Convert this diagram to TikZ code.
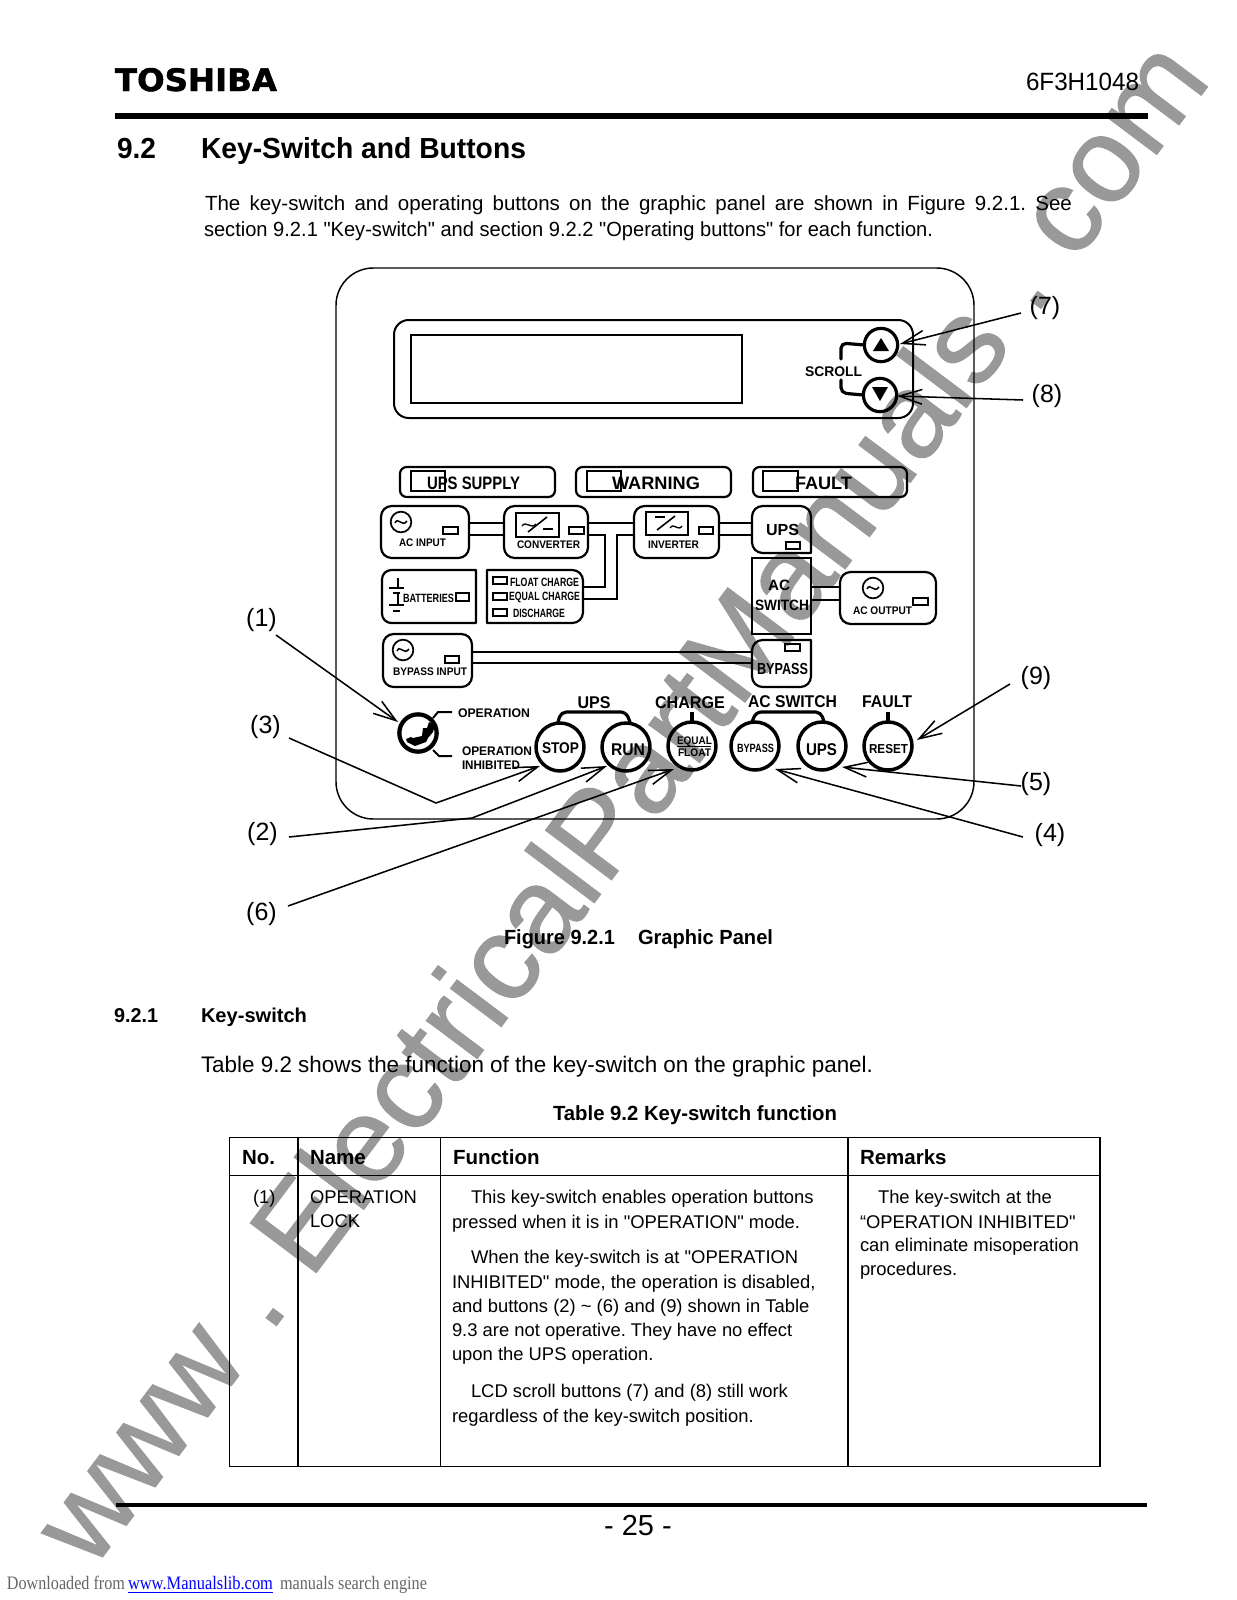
\documentclass[tikz,border=0pt]{standalone}
\usepackage{fontspec}
\usepackage{graphicx}
\usetikzlibrary{arrows.meta,calc}
\newfontfamily\mainf{Liberation Sans}
\newfontfamily\serf{Liberation Serif}
\newfontfamily\logof[BoldFeatures={FakeBold=1.5}]{DejaVu Sans}
\newfontfamily\wmf[FakeBold=0.9]{Liberation Sans}
\newlength\pxu \setlength\pxu{0.75pt}
\newcounter{tn}
\newcommand\fs[1]{\fontsize{\fpeval{#1*0.75}pt}{\fpeval{#1*0.9}pt}\selectfont\frenchspacing}
\newcommand\fw[2]{\resizebox{#1\pxu}{\height}{#2}}
\definecolor{wm}{HTML}{999999}
\definecolor{foot}{HTML}{666666}
\tikzset{
 txt/.style={inner sep=0pt,outer sep=0pt,font=\mainf},
 pline/.style={line width=1.65pt,line join=round,line cap=round},
 wire/.style={line width=1.5pt},
 pbox/.style={draw,line width=1.65pt,inner sep=0pt,outer sep=0pt},
 led/.style={draw,line width=1.2pt,inner sep=0pt,outer sep=0pt},
 btn/.style={draw,circle,line width=2.6pt,minimum size=36pt,inner sep=0pt,outer sep=0pt},
 sbtn/.style={draw,circle,line width=2.4pt,minimum size=25pt,inner sep=0pt,outer sep=0pt},
 thick1/.style={line width=2.4pt,line cap=round,line join=round,rounded corners=4pt},
 call/.style={line width=1.15pt,-{Straight Barb[length=17pt,width=11pt,line width=1.15pt]}},
 tline/.style={line width=1.1pt},
 acsym/.style={draw,circle,line width=1.3pt,minimum size=15.5pt,inner sep=0pt,outer sep=0pt},
}
\newcommand\TL[4]{\stepcounter{tn}\node[txt,anchor=base west] (t\arabic{tn}) at (#1,{#2+0.36*#3}) {\fs{#3}#4};}
\newcommand\TC[4]{\stepcounter{tn}\node[txt,anchor=base] (t\arabic{tn}) at (#1,{#2+0.36*#3}) {\fs{#3}#4};}
\newcommand\BX[7][pbox]{\node[#1,rounded corners=#7,anchor=north west,minimum width=\fpeval{(#5-#3)*0.75}pt,minimum height=\fpeval{(#6-#4)*0.75}pt] (#2) at (#3,#4) {};}
\newcommand\NB[5]{\node[inner sep=0pt,outer sep=0pt,anchor=north west,minimum width=\fpeval{(#4-#2)*0.75}pt,minimum height=\fpeval{(#5-#3)*0.75}pt] (#1) at (#2,#3) {};}
\newcommand\LED[5]{\BX[led]{#1}{#2}{#3}{#4}{#5}{0pt}}
\newcommand\WAVE[2]{\begin{scope}[shift={(#1,#2)}]\draw[line width=1.1pt] (-6,1) .. controls (-3,-6) and (1,6) .. (6,-1);\end{scope}}
\begin{document}
\begin{tikzpicture}[x=0.75pt,y=-0.75pt]
\useasboundingbox (0,0) rectangle (1237,1600);
\fill[white] (0,0) rectangle (1237,1600);
% watermark
\node[txt,font=\wmf,text=wm,rotate=53.07,anchor=base west] (wmark) at (92,1571) {\fs{120}\fw{1865}{www . ElectricalPartManuals . com}};
% header
\node[txt,anchor=north west] (logo) at (115,68) {\logof\bfseries\resizebox{162\pxu}{23\pxu}{TOSHIBA}};
\TL{1026}{81}{25}{\fw{113}{6F3H1048}}
\fill (115,113) rectangle (1148,119);
\TL{117}{148}{29}{\bfseries\fw{39}{9.2}}
\TL{201}{148}{29}{\bfseries\fw{325}{Key-Switch and Buttons}}
\TL{205}{203}{20.5}{\makebox[867\pxu][s]{The key-switch and operating buttons on the graphic panel are shown in Figure 9.2.1. See}}
\TL{204}{229}{20.5}{\fw{729}{section 9.2.1 "Key-switch" and section 9.2.2 "Operating buttons" for each function.}}
% panel
\BX[draw,line width=1.1pt,inner sep=0pt,outer sep=0pt]{panel}{336}{268}{974}{819}{28pt}
\BX[draw,line width=1.5pt,inner sep=0pt,outer sep=0pt]{lcdout}{394}{320}{913}{418}{11pt}
\BX[draw,line width=1.2pt,inner sep=0pt,outer sep=0pt]{lcd}{411}{335}{742}{403}{0pt}
% scroll
\node[sbtn] (sup) at (881,345) {};
\node[sbtn] (sdn) at (880,395) {};
\fill (873,351) -- (881,338) -- (889,351) -- cycle;
\fill (872,387) -- (888,387) -- (880,401) -- cycle;
\draw[thick1] (sup.west) -- (841,343) -- (841,359);
\draw[thick1] (841,380) -- (841,393) -- (sdn.west);
\TL{805}{371}{14}{\bfseries\fw{57}{SCROLL}}
% lamps
\BX{fsup}{400}{467}{555}{497}{5pt}
\BX{fwarn}{576}{467}{731}{497}{5pt}
\BX{ffault}{753}{467}{907}{497}{5pt}
\BX[draw,line width=1.5pt,inner sep=0pt,outer sep=0pt]{lsup}{411}{471}{445}{491}{0pt}
\BX[draw,line width=1.5pt,inner sep=0pt,outer sep=0pt]{lwarn}{587}{471}{621}{491}{0pt}
\BX[draw,line width=1.5pt,inner sep=0pt,outer sep=0pt]{lfault}{763}{471}{798}{491}{0pt}
\TL{427}{483}{18}{\bfseries\fw{93}{UPS SUPPLY}}
\TL{612}{483}{18}{\bfseries\fw{88}{WARNING}}
\TL{795}{483}{18}{\bfseries\fw{57}{FAULT}}
% mimic boxes
\BX{acin}{381}{506}{469}{558}{8pt}
\BX{conv}{504}{506}{588}{558}{8pt}
\BX{inv}{634}{506}{719}{558}{8pt}
\BX{acout}{840}{572}{936}{624}{8pt}
\BX{bypin}{383}{634}{472}{687}{8pt}
\BX{acsw}{752}{558}{811}{634}{0pt}
\NB{upsb}{752}{506}{811}{553}
\NB{bypb}{752}{640}{811}{687}
\NB{batt}{382}{570}{476}{623}
\NB{chg}{487}{570}{583}{623}
\draw[pline] (upsb.south west) -- (upsb.south east) [rounded corners=8pt] -- (upsb.north east) -- (upsb.north west) -- cycle;
\draw[pline] (bypb.north west) -- (bypb.north east) [rounded corners=8pt] -- (bypb.south east) -- (bypb.south west) -- cycle;
\draw[pline] (batt.north east) -- (batt.south east) [rounded corners=7pt] -- (batt.south west) -- (batt.north west) [sharp corners] -- cycle;
\draw[pline] (chg.north west) -- (chg.south west) [rounded corners=8pt] -- (chg.south east) -- (chg.north east) [sharp corners] -- cycle;
% wires
\foreach \yy in {523,535}{
 \draw[wire] (acin.east |- 0,\yy) -- (conv.west |- 0,\yy);
 \draw[wire] (inv.east |- 0,\yy) -- (upsb.west |- 0,\yy);
}
\draw[wire] (conv.east |- 0,523) -- (inv.west |- 0,523);
\draw[wire] (conv.east |- 0,535) -- (605,535) -- (605,587) -- (chg.east |- 0,587);
\draw[wire] (inv.west |- 0,535) -- (617,535) -- (617,599) -- (chg.east |- 0,599);
\foreach \yy in {587,600}{ \draw[wire] (acsw.east |- 0,\yy) -- (acout.west |- 0,\yy); }
\foreach \yy in {652,663}{ \draw[wire] (bypin.east |- 0,\yy) -- (bypb.west |- 0,\yy); }
% symbols
\node[acsym] (s1) at (401,522) {}; \WAVE{401}{522}
\node[acsym] (s2) at (403,650) {}; \WAVE{403}{650}
\node[acsym] (s3) at (873,588) {}; \WAVE{873}{588}
\BX[draw,line width=1.4pt,inner sep=0pt,outer sep=0pt]{cvs}{516}{513}{559}{537}{0pt}
\BX[draw,line width=1.4pt,inner sep=0pt,outer sep=0pt]{ivs}{646}{512}{688}{535}{0pt}
\draw[line width=1.2pt] (528,532) -- (547,517);
\draw[line width=1.2pt] (543,529) -- (553,529);
\draw[line width=1.0pt] (522,526) .. controls (526,520) and (531,530) .. (536,524);
\draw[line width=1.2pt] (657,530) -- (675,516);
\draw[line width=1.2pt] (655,517) -- (665,517);
\draw[line width=1.0pt] (670,528) .. controls (674,522) and (678,532) .. (682,526);
% leds
\LED{l1}{443}{527}{458}{534}
\LED{l2}{569}{527}{584}{534}
\LED{l3}{699}{527}{713}{534}
\LED{l4}{786}{542}{800}{549}
\LED{l5}{913}{598}{928}{605}
\LED{l6}{456}{593}{469}{601}
\LED{l7}{493}{577}{507}{584}
\LED{l8}{493}{593}{507}{600}
\LED{l9}{493}{609}{507}{616}
\LED{l10}{445}{656}{459}{663}
\LED{l11}{785}{644}{800}{651}
% battery
\draw[line width=1.3pt] (398,578) -- (398,588) (389,588) -- (404,588) (393,593) -- (400,593) (398,594) -- (398,605) (389,605) -- (404,605) (393,611) -- (400,611);
% mimic labels
\TL{399}{543}{11}{\bfseries\fw{47}{AC INPUT}}
\TL{517}{545}{11}{\bfseries\fw{63}{CONVERTER}}
\TL{648}{545}{11}{\bfseries\fw{51}{INVERTER}}
\TL{393}{672}{11}{\bfseries\fw{74}{BYPASS INPUT}}
\TL{853}{611}{11}{\bfseries\fw{59}{AC OUTPUT}}
\TL{403}{598}{12}{\bfseries\fw{51}{BATTERIES}}
\TL{510}{582}{12}{\bfseries\fw{69}{FLOAT CHARGE}}
\TL{509}{596}{12}{\bfseries\fw{71}{EQUAL CHARGE}}
\TL{513}{613}{12}{\bfseries\fw{52}{DISCHARGE}}
\TL{766}{530}{16}{\bfseries\fw{33}{UPS}}
\TL{768}{585}{15}{\bfseries\fw{22}{AC}}
\TL{755}{605}{15}{\bfseries\fw{54}{SWITCH}}
\TL{757}{669}{16}{\bfseries\fw{51}{BYPASS}}
% key switch
\node[draw,circle,line width=3.2pt,minimum size=28pt,inner sep=0pt,outer sep=0pt] (key) at (418,733) {};
\fill (406,739) -- (411,737) -- (413,738) -- (422,736) -- (423,728) -- (427,728) -- (429,722) -- (435,725) -- (433,732) -- (428,738) -- (426,742) -- (415,746) -- (407,742) -- cycle;
\draw[line width=1.5pt] (433,718) -- (438,712) -- (452,712);
\draw[line width=1.5pt] (433,750) -- (439,756) -- (452,756);
\TL{458}{713}{12.5}{\bfseries\fw{72}{OPERATION}}
\TL{462}{751}{12.5}{\bfseries\fw{70}{OPERATION}}
\TL{462}{765}{12.5}{\bfseries\fw{58}{INHIBITED}}
% buttons
\node[btn] (stop) at (560,747) {};
\node[btn] (run) at (626,747) {};
\node[btn] (eqf) at (692,746) {};
\node[btn] (bbyp) at (755,746) {};
\node[btn] (bups) at (822,746) {};
\node[btn] (rst) at (888,746) {};
\TC{560.5}{748}{15.5}{\bfseries\fw{37}{STOP}}
\TC{628}{749}{17}{\bfseries\fw{34}{RUN}}
\TC{694.5}{741}{11}{\bfseries\fw{35}{EQUAL}}
\TC{694.5}{753}{11}{\bfseries\fw{33}{FLOAT}}
\draw[line width=1.1pt] (677,746.5) -- (711,746.5);
\TC{755.5}{748}{12}{\bfseries\fw{37}{BYPASS}}
\TC{821.5}{749}{17}{\bfseries\fw{31}{UPS}}
\TC{888.5}{749}{13}{\bfseries\fw{39}{RESET}}
\coordinate (ub1) at (558,722); \coordinate (ub2) at (561,712); \coordinate (ub3) at (626,712); \coordinate (ub4) at (630,722);
\coordinate (ab1) at (752,722); \coordinate (ab2) at (756,712); \coordinate (ab3) at (821,712); \coordinate (ab4) at (824,722);
\draw[thick1] (ub1) -- (ub2) -- (ub3) -- (ub4);
\draw[thick1] (ab1) -- (ab2) -- (ab3) -- (ab4);
\draw[line width=2.4pt] (eqf.north |- 0,712) -- (eqf.north);
\draw[line width=2.4pt] (rst.north |- 0,712) -- (rst.north);
\TC{594}{702}{17}{\bfseries\fw{33}{UPS}}
\TC{690}{702}{17}{\bfseries\fw{70}{CHARGE}}
\TC{792.5}{701}{17}{\bfseries\fw{89}{AC SWITCH}}
\TC{887}{701}{17}{\bfseries\fw{50}{FAULT}}
% callout labels
\TC{261.5}{617}{25}{(1)}
\TC{265.5}{724}{25}{(3)}
\TC{262.5}{831}{25}{(2)}
\TC{261.5}{911}{25}{(6)}
\TC{1045}{305}{25}{(7)}
\TC{1047}{393}{25}{(8)}
\TC{1036}{675}{25}{(9)}
\TC{1036}{781}{25}{(5)}
\TC{1050}{832}{25}{(4)}
% callouts
\coordinate (c1s) at (276,635); \coordinate (c1e) at (398,722);
\coordinate (c3s) at (289,738); \coordinate (c3m) at (436,803); \coordinate (c3e) at (540,766);
\coordinate (c2s) at (289,837); \coordinate (c2m) at (472,818); \coordinate (c2e) at (607,766);
\coordinate (c6s) at (288,906); \coordinate (c6e) at (674,769);
\coordinate (c5s) at (1021,786); \coordinate (c5e) at (842,767);
\coordinate (c4s) at (1023,837); \coordinate (c4e) at (775,769);
\coordinate (c9s) at (1010,684); \coordinate (c9e) at (917,740);
\coordinate (c7s) at (1021,313); \coordinate (c7e) at (900,344);
\coordinate (c8s) at (1023,400); \coordinate (c8e) at (897,396);
\draw[call] (c1s) -- (c1e);
\draw[call] (c3s) -- (c3m) -- (c3e);
\draw[call] (c2s) -- (c2m) -- (c2e);
\draw[call] (c6s) -- (c6e);
\draw[call] (c5s) -- (c5e);
\draw[call] (c4s) -- (c4e);
\draw[call] (c9s) -- (c9e);
\draw[call] (c7s) -- (c7e);
\draw[call] (c8s) -- (c8e);
% captions
\TL{504}{937}{20.5}{\bfseries\fw{111}{Figure 9.2.1}}
\TL{638}{937}{20.5}{\bfseries\fw{135}{Graphic Panel}}
\TL{114}{1015}{20}{\bfseries\fw{44}{9.2.1}}
\TL{201}{1015}{20}{\bfseries\fw{106}{Key-switch}}
\TL{201}{1064.5}{22.5}{\fw{672}{Table 9.2 shows the function of the key-switch on the graphic panel.}}
\TL{553}{1113}{20.5}{\bfseries\fw{284}{Table 9.2 Key-switch function}}
% table
\draw[tline] (229.5,1137.5) rectangle (1100,1466.5);
\draw[tline] (229.5,1175.5) -- (1100,1175.5);
\draw[tline] (298,1137.5) -- (298,1466.5);
\draw[tline] (440.5,1137.5) -- (440.5,1466.5);
\draw[tline] (848,1137.5) -- (848,1466.5);
\TL{242}{1157}{20.5}{\bfseries No.}
\TL{310}{1157}{20.5}{\bfseries Name}
\TL{453}{1157}{20.5}{\bfseries Function}
\TL{860}{1157}{20.5}{\bfseries Remarks}
\TL{253}{1196.5}{18.4}{(1)}
\TL{310}{1196.5}{18.4}{OPERATION}
\TL{310}{1220.5}{18.4}{LOCK}
\TL{471}{1196.5}{18.4}{This key-switch enables operation buttons}
\TL{452}{1221.5}{18.4}{pressed when it is in "OPERATION" mode.}
\TL{471}{1256.5}{18.4}{When the key-switch is at "OPERATION}
\TL{452}{1281.5}{18.4}{INHIBITED" mode, the operation is disabled,}
\TL{452}{1305.5}{18.4}{and buttons (2) \textasciitilde{} (6) and (9) shown in Table}
\TL{452}{1329.5}{18.4}{9.3 are not operative. They have no effect}
\TL{452}{1353.5}{18.4}{upon the UPS operation.}
\TL{471}{1390.5}{18.4}{LCD scroll buttons (7) and (8) still work}
\TL{452}{1415.5}{18.4}{regardless of the key-switch position.}
\TL{878}{1196.5}{18.4}{The key-switch at the}
\TL{860}{1221.5}{18.4}{“OPERATION INHIBITED"}
\TL{860}{1244.5}{18.4}{can eliminate misoperation}
\TL{860}{1268.5}{18.4}{procedures.}
% footer
\fill (116,1503) rectangle (1147,1507);
\TC{638}{1525.5}{29}{- 25 -}
\TL{7}{1583}{19}{\serf\color{foot}\fw{118}{Downloaded from}}
\TL{128}{1583}{19}{\serf\color{blue}\fw{145}{\underline{www.Manualslib.com}}}
\TL{280}{1583}{19}{\serf\color{foot}\fw{147}{manuals search engine}}
\end{tikzpicture}
\end{document}
